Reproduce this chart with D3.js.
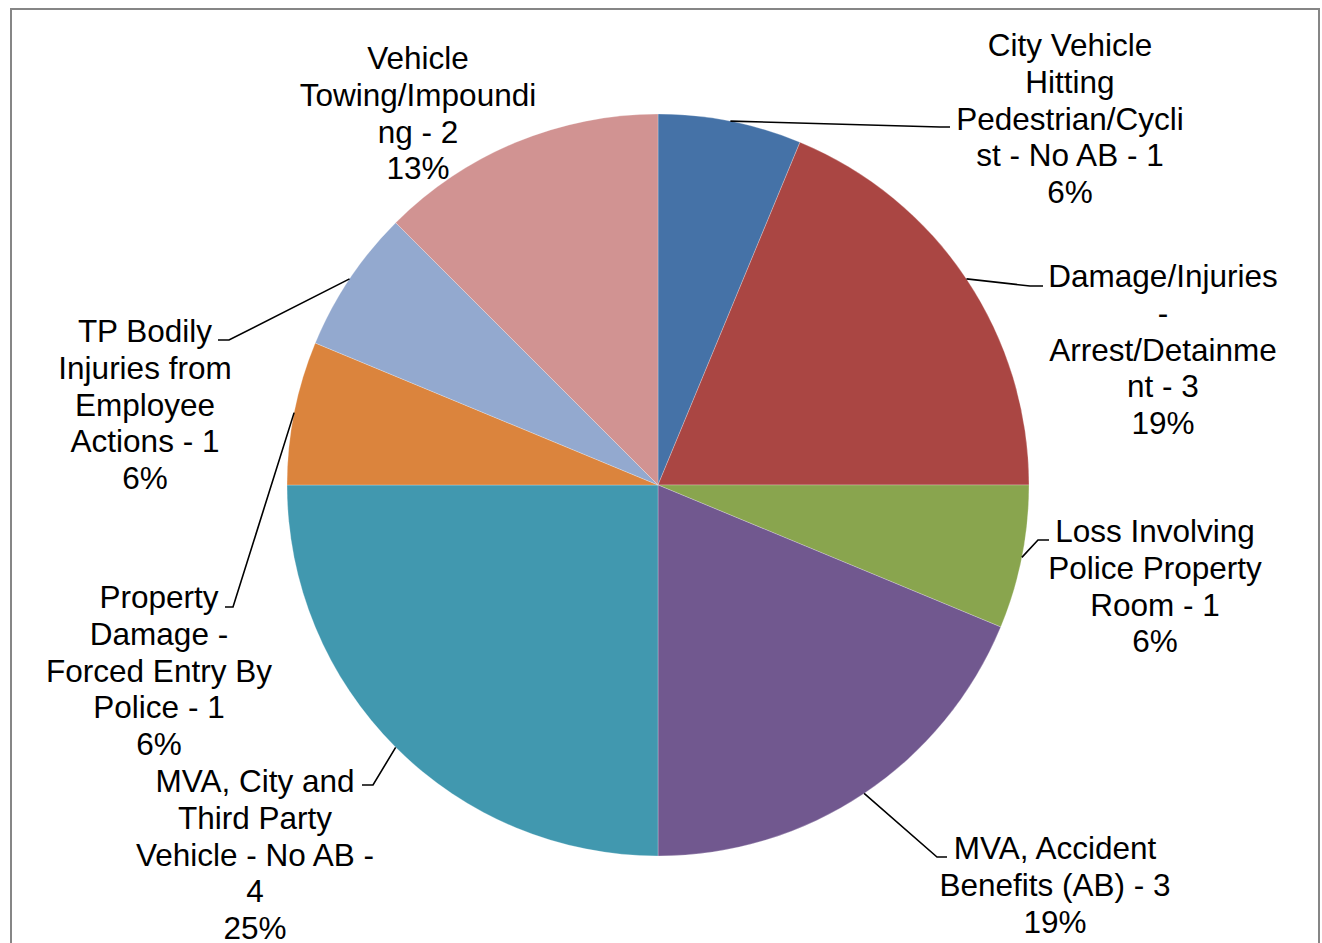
<!DOCTYPE html>
<html>
<head>
<meta charset="utf-8">
<script src="https://cdn.jsdelivr.net/npm/d3@7"></script>
<style>
  body { margin: 0; background: #fff; }
  svg { display: block; }
</style>
</head>
<body>
<svg id="chart" width="1322" height="943"></svg>
<script>
// data
const categories = [
  "City Vehicle Hitting Pedestrian/Cyclist - No AB",
  "Damage/Injuries - Arrest/Detainment",
  "Loss Involving Police Property Room",
  "MVA, Accident Benefits (AB)",
  "MVA, City and Third Party Vehicle - No AB",
  "Property Damage - Forced Entry By Police",
  "TP Bodily Injuries from Employee Actions",
  "Vehicle Towing/Impounding"
];
const counts = [1, 3, 1, 3, 4, 1, 1, 2];
const colors = ["#4572A7", "#AA4643", "#89A54E", "#71588F", "#4198AF", "#DB843D", "#93A9CF", "#D19392"];

// label text as it wraps in the original (percent is appended)
const labelLines = [
  ["City Vehicle", "Hitting", "Pedestrian/Cycli", "st - No AB - 1"],
  ["Damage/Injuries", "-", "Arrest/Detainme", "nt - 3"],
  ["Loss Involving", "Police Property", "Room - 1"],
  ["MVA, Accident", "Benefits (AB) - 3"],
  ["MVA, City and", "Third Party", "Vehicle - No AB -", "4"],
  ["Property", "Damage -", "Forced Entry By", "Police - 1"],
  ["TP Bodily", "Injuries from", "Employee", "Actions - 1"],
  ["Vehicle", "Towing/Impoundi", "ng - 2"]
];

// label placement: text centre x, first line centre y, leader elbow, leader end x
const labelPos = [
  {x: 1070, y: 45,  elbow: [940, 127],  endX: 950},
  {x: 1163, y: 276, elbow: [1030, 286], endX: 1043},
  {x: 1155, y: 531, elbow: [1038, 540], endX: 1049},
  {x: 1055, y: 848, elbow: [937, 857],  endX: 947},
  {x: 255,  y: 781, elbow: [373, 785],  endX: 362},
  {x: 159,  y: 597, elbow: [233, 607],  endX: 225},
  {x: 145,  y: 331, elbow: [229, 340],  endX: 218},
  {x: 418,  y: 58,  elbow: null,        endX: null}
];

const width = 1322, height = 943;
const cx = 658, cy = 485, radius = 371;
const fontSize = 31.5, lineH = 36.7;

const svg = d3.select("#chart");

// frame
svg.append("rect")
  .attr("x", 11).attr("y", 9)
  .attr("width", 1308).attr("height", 960)
  .attr("fill", "none")
  .attr("stroke", "#868686")
  .attr("stroke-width", 2);

const total = d3.sum(counts);
const pct = d => d3.format(".0%")(d / total);

const pie = d3.pie().sort(null).value(d => d);
const arcs = pie(counts);
const arc = d3.arc().innerRadius(0).outerRadius(radius);

const g = svg.append("g").attr("transform", `translate(${cx},${cy})`);

g.selectAll("path.slice")
  .data(arcs)
  .join("path")
  .attr("class", "slice")
  .attr("d", arc)
  .attr("fill", (d, i) => colors[i])
  .attr("stroke", "#fff")
  .attr("stroke-width", 0.25);

// leader lines
const edge = d3.arc().innerRadius(radius).outerRadius(radius);
arcs.forEach((d, i) => {
  const p = labelPos[i];
  if (!p.elbow) return;
  const [sx, sy] = edge.centroid(d);
  svg.append("polyline")
    .attr("points", [[sx + cx, sy + cy], p.elbow, [p.endX, p.elbow[1]]].map(q => q.join(",")).join(" "))
    .attr("fill", "none")
    .attr("stroke", "#000")
    .attr("stroke-width", 1.6);
});

// labels
arcs.forEach((d, i) => {
  const p = labelPos[i];
  const lines = labelLines[i].concat([pct(counts[i])]);
  const t = svg.append("text")
    .attr("text-anchor", "middle")
    .attr("font-family", "'Liberation Sans', Arial, sans-serif")
    .attr("font-size", fontSize)
    .attr("fill", "#000");
  lines.forEach((s, k) => {
    t.append("tspan")
      .attr("x", p.x)
      .attr("y", p.y + k * lineH + 11.3)
      .text(s);
  });
});
</script>
</body>
</html>
